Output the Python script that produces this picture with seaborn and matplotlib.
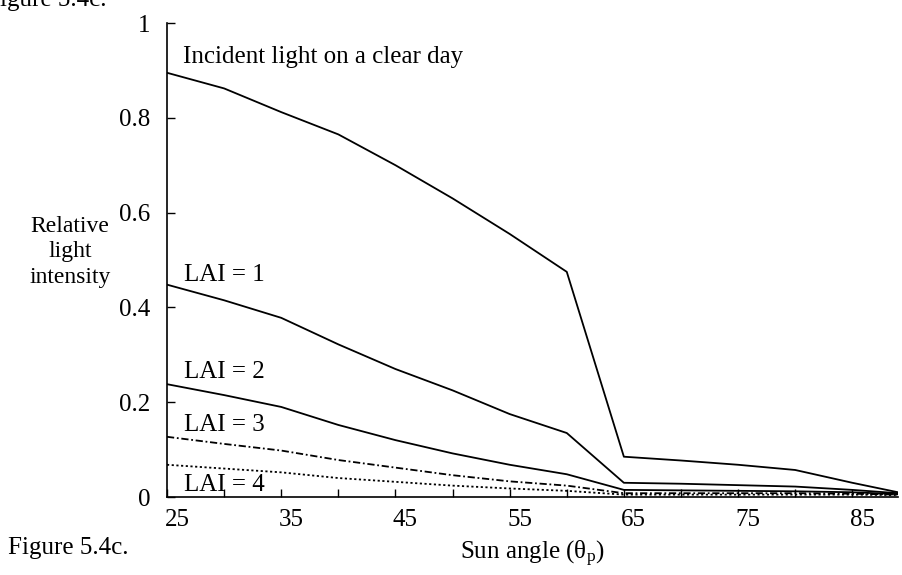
import matplotlib
matplotlib.use("Agg")
import matplotlib.pyplot as plt
import matplotlib.transforms as mtransforms
import seaborn as sns
import pandas as pd

# Sun angle (degrees) and relative light intensity for each canopy case
angles = [25, 30, 35, 40, 45, 50, 55, 60, 65, 70, 75, 80, 85, 89]
incident = [0.895, 0.862, 0.812, 0.765, 0.700, 0.630, 0.555, 0.475,
            0.085, 0.077, 0.068, 0.057, 0.030, 0.010]
lai1 = [0.448, 0.415, 0.378, 0.322, 0.270, 0.225, 0.175, 0.135,
        0.030, 0.028, 0.025, 0.022, 0.015, 0.008]
lai2 = [0.238, 0.215, 0.190, 0.152, 0.120, 0.092, 0.068, 0.048,
        0.015, 0.014, 0.013, 0.012, 0.010, 0.006]
lai3 = [0.127, 0.112, 0.098, 0.078, 0.062, 0.046, 0.033, 0.024,
        0.008, 0.008, 0.008, 0.008, 0.007, 0.005]
lai4 = [0.068, 0.060, 0.052, 0.040, 0.032, 0.024, 0.018, 0.013,
        0.005, 0.005, 0.005, 0.005, 0.005, 0.004]

series_names = ["Incident light on a clear day", "LAI = 1", "LAI = 2", "LAI = 3", "LAI = 4"]
series_values = [incident, lai1, lai2, lai3, lai4]
series_styles = ["-", "-", "-", (0, (4, 1.5, 1, 1.5)), (0, (1.2, 1.4))]
label_pos = [(26.4, 0.928), (26.5, 0.468), (26.5, 0.264), (26.5, 0.152), (26.5, 0.025)]

x_ticks = [25, 35, 45, 55, 65, 75, 85]
x_minor = [30, 40, 50, 60, 70, 80]
y_ticks = [0, 0.2, 0.4, 0.6, 0.8, 1.0]
y_labels = ["0", "0.2", "0.4", "0.6", "0.8", "1"]

sns.set_theme(style="ticks")
plt.rcParams["font.family"] = ["Liberation Serif", "DejaVu Serif"]
plt.rcParams["mathtext.fontset"] = "custom"
plt.rcParams["mathtext.rm"] = "Liberation Serif"
plt.rcParams["mathtext.it"] = "Liberation Serif"

FS = 18

fig = plt.figure(figsize=(9.03, 5.75), dpi=100)
ax = fig.add_axes([167 / 903, 1 - 497 / 575, (898 - 167) / 903, (497 - 23) / 575])

for name, vals, ls in zip(series_names, series_values, series_styles):
    df = pd.DataFrame({"angle": angles, "intensity": vals})
    sns.lineplot(data=df, x="angle", y="intensity", color="black",
                 linewidth=1.3, linestyle=ls, ax=ax, legend=False)

for name, (tx, ty) in zip(series_names, label_pos):
    ax.text(tx, ty, name, fontsize=FS, va="center", ha="left", color="black")

ax.set_xlim(25, 89)
ax.set_ylim(0, 1)
ax.set_xticks(x_ticks)
ax.set_xticks(x_minor, minor=True)
ax.set_xticklabels([str(t) for t in x_ticks])
ax.set_yticks(y_ticks)
ax.set_yticklabels(y_labels)
ax.tick_params(axis="both", which="both", direction="in", length=6, width=1,
               color="black", labelsize=FS, labelcolor="black")
ax.tick_params(axis="x", pad=9)
ax.tick_params(axis="y", pad=12)

# x tick numbers sit a little to the right of their ticks
shift = mtransforms.ScaledTranslation(10 / 100, 0, fig.dpi_scale_trans)
for lab in ax.get_xticklabels():
    lab.set_transform(lab.get_transform() + shift)

sns.despine(ax=ax)
for sp in ("left", "bottom"):
    ax.spines[sp].set_color("black")
    ax.spines[sp].set_linewidth(1.2)

ax.set_xlabel("Sun angle (θ$_\\mathrm{p}$)", fontsize=FS, color="black", labelpad=5)
ax.set_ylabel("")
fig.text(70 / 903, 1 - 252 / 575, "Relative\nlight\nintensity", fontsize=17,
         ha="center", va="center", linespacing=1.3, color="black")

fig.text(8 / 903, 1 - 554 / 575, "Figure 5.4c.", fontsize=FS, ha="left",
         va="baseline", color="black")
fig.text(-14 / 903, 1 - 6 / 575, "Figure 5.4c.", fontsize=FS, ha="left",
         va="baseline", color="black")

fig.savefig("out.png", dpi=100, facecolor="white")
